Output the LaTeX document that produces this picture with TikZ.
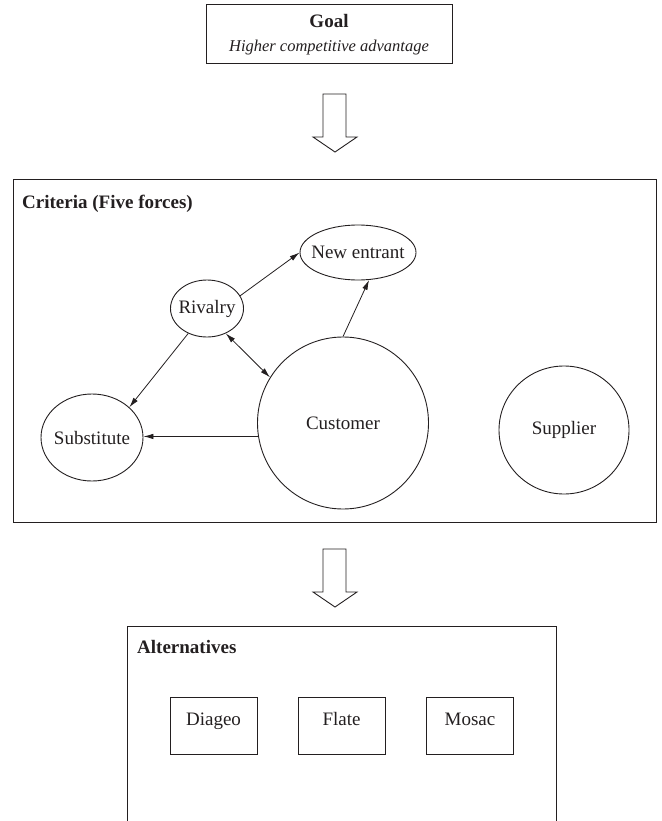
\documentclass[tikz,border=0pt]{standalone}
\usepackage{fontspec}
\setmainfont{Liberation Serif}
\usetikzlibrary{shapes.geometric,arrows.meta}
\definecolor{ink}{HTML}{231F20}
\newcommand{\fixw}[1]{\makebox[0pt]{#1}}
\begin{document}
\begin{tikzpicture}[x=1pt,y=-1pt,
  every node/.style={font=\fontsize{19}{23}\selectfont, text=ink},
  force/.style={ellipse, draw=ink, line width=0.9pt, inner sep=0pt},
  frame/.style={rectangle, draw=ink, line width=1pt, inner sep=0pt},
  altbox/.style={rectangle, draw=ink, line width=1pt, inner sep=0pt, minimum width=87pt, minimum height=57pt, text height=8pt, text depth=8pt},
  title/.style={anchor=west, inner sep=0pt, font=\fontsize{19}{23}\selectfont\bfseries},
  link/.style={draw=ink, line width=0.8pt, -{Latex[length=10pt,width=5.5pt]}},
  blockarrow/.pic={\draw[draw=ink, line width=0.9pt, line join=miter] (-12,0) -- (11,0) -- (11,43) -- (22,43) -- (0,58) -- (-22,43) -- (-12,43) -- cycle;}
]
\useasboundingbox (0,0) rectangle (661,821);

% Goal
\node[frame, minimum width=246pt, minimum height=59pt, align=center] (goal) at (329,34.5)
  {\textbf{Goal}\\[1pt]{\fontsize{16.5}{20}\selectfont\itshape Higher competitive advantage}};

\pic at (335,94) {blockarrow};

% Criteria
\node[frame, minimum width=643pt, minimum height=342pt] (crit) at (334.5,351) {};
\node[title] (crittitle) at (22,204) {Criteria (Five forces)};

\node[force, minimum width=116pt, minimum height=55pt] (ne) at (358,252.5) {\fixw{New entrant}};
\node[force, minimum width=73pt, minimum height=57pt] (riv) at (207,308.5) {\fixw{Rivalry}};
\node[force, minimum width=102pt, minimum height=87pt] (sub) at (92,437.5) {\fixw{Substitute}};
\node[force, minimum width=171pt, minimum height=172pt] (cust) at (343,423) {\fixw{Customer}};
\node[force, minimum width=130pt, minimum height=128pt] (sup) at (564,430) {\fixw{Supplier}};

\draw[link] (riv.21) -- (ne.180);
\draw[link] (cust.90) -- (ne.-68);
\draw[link, {Latex[length=10pt,width=5.5pt]}-{Latex[length=10pt,width=5.5pt]}] (riv.-53) -- (cust.148);
\draw[link] (riv.-127) -- (sub.39);
\draw[link] (cust.189) -- (sub.east |- cust.189);

\pic at (335,549) {blockarrow};

% Alternatives
\draw[draw=ink, line width=1pt] (127,830) -- (127,626) -- (556,626) -- (556,830);
\node[title] (alttitle) at (137,647) {Alternatives};
\node[altbox] (diageo) at (213.5,725.5) {Diageo};
\node[altbox] (flate) at (341.5,725.5) {Flate};
\node[altbox] (mosac) at (470,725.5) {Mosac};
\end{tikzpicture}
\end{document}
